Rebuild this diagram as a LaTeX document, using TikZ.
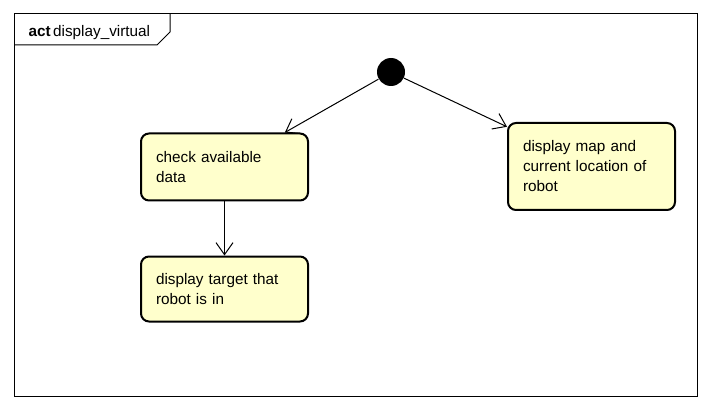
\documentclass[tikz,border=0pt]{standalone}
\usepackage{fontspec}
\setmainfont{Liberation Sans}
\usetikzlibrary{positioning,arrows.meta}

\definecolor{actfill}{RGB}{255,255,204}

\begin{document}
\begin{tikzpicture}[
    x=1pt, y=-1pt,
    line width=1pt,
    font=\fontsize{15.3}{20}\selectfont,
    >={Straight Barb[length=12pt,width=17pt]},
    action/.style={draw, fill=actfill, line width=2pt, rounded corners=8pt,
        minimum width=167pt, text width=137pt, align=left, inner sep=0pt},
    initial/.style={circle, fill=black, minimum size=28pt, inner sep=0pt}
]
    \useasboundingbox (0,0) rectangle (710,409);
    % frame with its name tab
    \draw (14,14) rectangle (697,396);
    \draw (14,45) -- (157,45) -- (170,32) -- (170,14);
    \node[anchor=base west, inner sep=0pt] (title) at (28,37) {\textbf{act}\,display\_virtual};

    % start point and the three actions
    \node[initial] (start) at (391,72) {};
    \node[action, minimum height=67pt] (check) at (224.5,167) {check available\\data};
    \node[action, minimum height=65pt] (target) at (224.5,289) {display target that\\robot is in};
    \node[action, minimum height=87pt] (map) at (591.5,166.5) {display map and\\current location of\\robot};

    \path[->]
        (start) edge (check)
        (start) edge (map)
        (check) edge (target);
\end{tikzpicture}
\end{document}
